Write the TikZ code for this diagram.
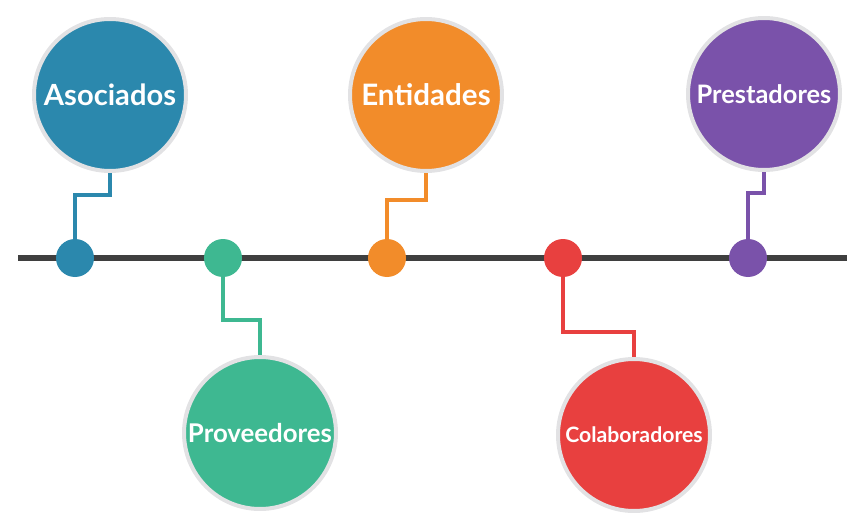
\documentclass[tikz,border=0pt]{standalone}
\usepackage{fontspec}
\setmainfont{Lato}[BoldFont={Lato Bold}]
\usepackage{graphicx}
\usetikzlibrary{backgrounds}
\definecolor{cA}{HTML}{2B88AD}
\definecolor{cB}{HTML}{3EB891}
\definecolor{cC}{HTML}{F28C2A}
\definecolor{cD}{HTML}{E8403F}
\definecolor{cE}{HTML}{7A52AA}
\definecolor{lineg}{HTML}{3F3F3F}
\definecolor{ring}{HTML}{E2E2E4}
\newcommand\fitw[2]{\resizebox{#1}{!}{\bfseries #2}}
\tikzset{
  bigc/.style={circle, fill=#1, draw=ring, line width=3pt, minimum size=114pt, inner sep=0pt, text=white},
  dotc/.style={circle, fill=#1, minimum size=28.5pt, inner sep=0pt},
  conn/.style={draw=#1, line width=3pt},
  tline/.style={draw=lineg, line width=4.5pt}
}
\begin{document}
\begin{tikzpicture}[x=0.75pt,y=-0.75pt]
\useasboundingbox (0,0) rectangle (847,517);
% big circles
\node[bigc=cA] (A) at (110,95) {\fitw{99pt}{Asociados}};
\node[bigc=cB] (B) at (260,433) {\fitw{108pt}{Proveedores}};
\node[bigc=cC] (C) at (426,95) {\fitw{97pt}{Entidades}};
\node[bigc=cD] (D) at (634,435) {\fitw{103pt}{Colaboradores}};
\node[bigc=cE] (E) at (764,94) {\fitw{101pt}{Prestadores}};
% dots
\node[dotc=cA] (dA) at (75,258) {};
\node[dotc=cB] (dB) at (223,258) {};
\node[dotc=cC] (dC) at (387,258) {};
\node[dotc=cD] (dD) at (563,258) {};
\node[dotc=cE] (dE) at (748,258) {};
% knees and line ends
\coordinate (kA) at (110,195);
\coordinate (kB) at (260,320);
\coordinate (kC) at (426,200);
\coordinate (kD) at (634,332);
\coordinate (kE) at (764,193);
\coordinate (L0) at (18,258);
\coordinate (L1) at (847,258);
\begin{scope}[on background layer]
\draw[tline] (L0) -- (L1);
\draw[conn=cA] (dA.center) |- (kA) -- (A.center);
\draw[conn=cB] (dB.center) |- (kB) -- (B.center);
\draw[conn=cC] (dC.center) |- (kC) -- (C.center);
\draw[conn=cD] (dD.center) |- (kD) -- (D.center);
\draw[conn=cE] (dE.center) |- (kE) -- (E.center);
\end{scope}
\end{tikzpicture}
\end{document}
